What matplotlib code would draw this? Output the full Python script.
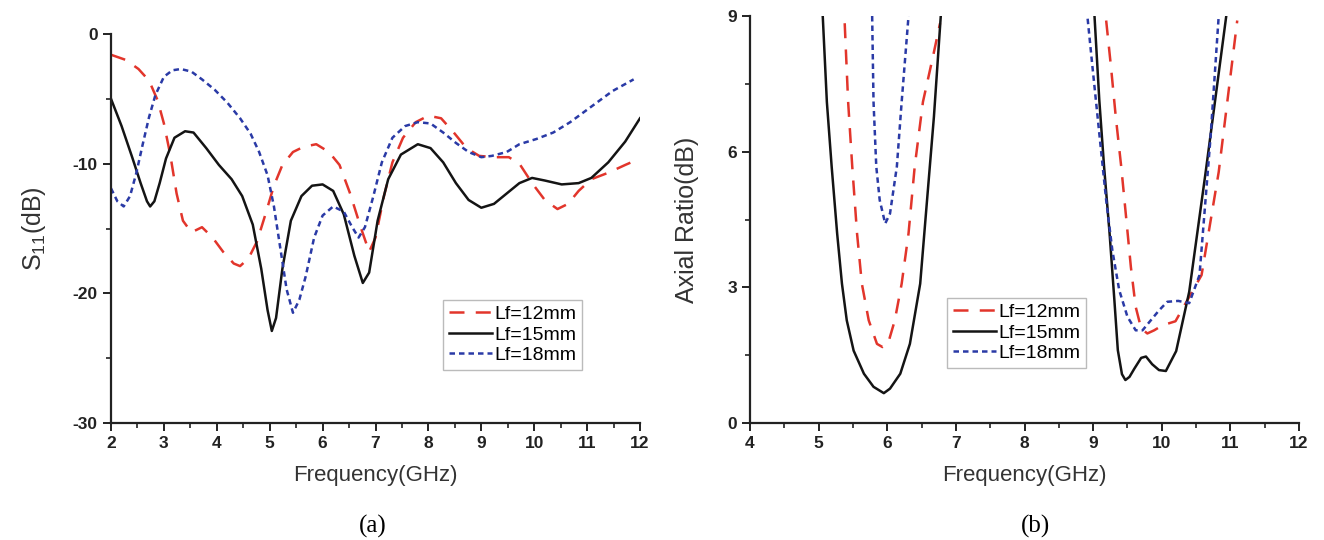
import matplotlib
matplotlib.use("Agg")
import matplotlib.pyplot as plt
import matplotlib.ticker as mticker

plt.rcParams["font.family"] = ["Liberation Sans", "DejaVu Sans"]
plt.rcParams["mathtext.fontset"] = "custom"
plt.rcParams["mathtext.rm"] = "Liberation Sans"
plt.rcParams["axes.unicode_minus"] = False

# --- (a) S11 vs frequency ---
s11_f_12 = [2.0, 2.28, 2.52, 2.72, 2.88, 3.0, 3.12, 3.24, 3.36, 3.52, 3.72, 3.92, 4.12, 4.32, 4.44,
            4.6, 4.76, 4.92, 5.08, 5.24, 5.44, 5.64, 5.88, 6.12, 6.32, 6.52, 6.72, 6.88, 7.0,
            7.16, 7.32, 7.52, 7.76, 8.0, 8.24, 8.48, 8.72, 8.96, 9.24, 9.52, 9.72, 9.96, 10.2,
            10.44, 10.64, 10.84, 11.08, 11.4, 11.72, 12.0]
s11_v_12 = [-1.6, -2.0, -2.7, -3.6, -5.1, -6.9, -9.3, -12.3, -14.4, -15.3, -14.9, -15.7, -16.8, -17.7, -17.9,
            -17.3, -16.0, -13.9, -11.7, -10.1, -9.1, -8.7, -8.5, -9.1, -10.1, -12.3, -14.9, -16.8, -15.7,
            -12.5, -9.9, -8.0, -6.8, -6.3, -6.5, -7.6, -8.8, -9.4, -9.5, -9.5, -10.0, -11.5, -12.8,
            -13.5, -13.1, -12.1, -11.2, -10.7, -10.1, -9.6]

s11_f_15 = [2.0, 2.2, 2.4, 2.56, 2.68, 2.74, 2.82, 2.92, 3.04, 3.2, 3.4, 3.56, 3.8, 4.04, 4.28, 4.48,
            4.68, 4.84, 4.96, 5.04, 5.12, 5.24, 5.4, 5.6, 5.8, 6.0, 6.2, 6.4, 6.6, 6.76, 6.88,
            7.04, 7.24, 7.48, 7.8, 8.04, 8.28, 8.52, 8.76, 9.0, 9.24, 9.48, 9.72, 9.96, 10.2,
            10.52, 10.84, 11.08, 11.4, 11.72, 12.0]
s11_v_15 = [-5.0, -7.1, -9.5, -11.5, -12.9, -13.3, -12.9, -11.5, -9.6, -8.0, -7.5, -7.6, -8.8, -10.1, -11.2, -12.5,
            -14.7, -18.1, -21.3, -22.9, -21.9, -18.1, -14.4, -12.5, -11.7, -11.6, -12.1, -13.9, -17.1, -19.2, -18.4,
            -14.4, -11.2, -9.3, -8.5, -8.8, -9.9, -11.5, -12.8, -13.4, -13.1, -12.3, -11.5, -11.1, -11.3,
            -11.6, -11.5, -11.1, -9.9, -8.3, -6.5]

s11_f_18 = [2.0, 2.12, 2.24, 2.36, 2.48, 2.6, 2.72, 2.84, 3.0, 3.16, 3.32, 3.52, 3.72, 3.96, 4.2, 4.44,
            4.64, 4.8, 4.96, 5.08, 5.2, 5.32, 5.44, 5.56, 5.68, 5.84, 6.0, 6.2, 6.4, 6.56, 6.68,
            6.8, 6.96, 7.12, 7.32, 7.56, 7.8, 8.04, 8.28, 8.52, 8.76, 9.0, 9.2, 9.48, 9.72,
            10.04, 10.36, 10.68, 11.08, 11.48, 11.88]
s11_v_18 = [-11.9, -12.9, -13.3, -12.5, -10.7, -8.5, -6.4, -4.7, -3.3, -2.8, -2.7, -2.9, -3.5, -4.3, -5.3, -6.5,
            -7.7, -9.1, -10.9, -13.3, -16.5, -19.7, -21.5, -20.5, -18.7, -15.7, -14.0, -13.3, -13.7, -14.9, -15.7,
            -14.9, -12.5, -9.9, -8.0, -7.1, -6.8, -6.9, -7.6, -8.4, -9.1, -9.5, -9.4, -9.1, -8.5,
            -8.1, -7.6, -6.8, -5.6, -4.4, -3.5]

# --- (b) axial ratio vs frequency (two bands per curve) ---
ar_f_12a = [5.38, 5.43, 5.49, 5.56, 5.63, 5.73, 5.85, 5.93, 6.01, 6.11, 6.21, 6.31, 6.4, 6.52, 6.67, 6.77]
ar_v_12a = [8.84, 7.1, 5.67, 4.19, 3.08, 2.27, 1.75, 1.68, 1.75, 2.27, 3.08, 4.19, 5.67, 7.1, 8.13, 8.84]
ar_f_12b = [9.19, 9.26, 9.33, 9.41, 9.48, 9.55, 9.62, 9.7, 9.79, 9.89, 10.01, 10.2, 10.33, 10.58, 10.83, 11.1]
ar_v_12b = [8.9, 7.88, 6.77, 5.66, 4.56, 3.45, 2.57, 2.09, 1.98, 2.05, 2.16, 2.25, 2.6, 3.27, 5.55, 8.9]

ar_f_15a = [5.06, 5.12, 5.19, 5.27, 5.34, 5.41, 5.51, 5.66, 5.8, 5.95, 6.04, 6.19, 6.33, 6.48, 6.58, 6.68, 6.78]
ar_v_15a = [9.0, 7.1, 5.67, 4.19, 3.08, 2.27, 1.6, 1.09, 0.8, 0.66, 0.76, 1.09, 1.75, 3.08, 4.93, 6.77, 9.0]
ar_f_15b = [9.02, 9.09, 9.16, 9.24, 9.31, 9.36, 9.42, 9.47, 9.53, 9.6, 9.7, 9.77, 9.86, 9.96, 10.06, 10.21,
            10.4, 10.64, 10.94]
ar_v_15b = [9.0, 7.14, 5.66, 4.19, 2.71, 1.61, 1.08, 0.95, 1.02, 1.2, 1.44, 1.47, 1.3, 1.17, 1.15, 1.59,
            2.9, 5.55, 9.0]

ar_f_18a = [5.78, 5.8, 5.84, 5.89, 5.97, 6.04, 6.14, 6.21, 6.31]
ar_v_18a = [9.0, 7.1, 5.67, 4.93, 4.41, 4.63, 5.67, 7.1, 9.0]
ar_f_18b = [8.92, 8.99, 9.09, 9.19, 9.28, 9.38, 9.5, 9.62, 9.72, 9.84, 9.96, 10.08, 10.24, 10.4, 10.55,
            10.71, 10.83]
ar_v_18b = [8.94, 7.88, 6.4, 4.93, 3.82, 2.94, 2.35, 2.05, 2.05, 2.27, 2.49, 2.68, 2.7, 2.65, 3.27,
            6.3, 9.0]

labels = ["Lf=12mm", "Lf=15mm", "Lf=18mm"]
red = "#e2352b"
black = "#141414"
blue = "#2a3aa6"

fig = plt.figure(figsize=(13.24, 5.40), dpi=100)
ax1 = fig.add_axes([111 / 1324, 1 - 423 / 540, (640 - 111) / 1324, (423 - 34) / 540])
ax2 = fig.add_axes([750 / 1324, 1 - 423 / 540, (1299 - 750) / 1324, (423 - 16) / 540])

red_dash = (0, (6, 4.5))
blue_dot = (0, (2.2, 1.6))
lw = 1.8

ax1.plot(s11_f_12, s11_v_12, color=red, lw=lw, linestyle=red_dash, label=labels[0])
ax1.plot(s11_f_15, s11_v_15, color=black, lw=lw, label=labels[1])
ax1.plot(s11_f_18, s11_v_18, color=blue, lw=lw, linestyle=blue_dot, label=labels[2])
ax1.set_xlim(2, 12)
ax1.set_ylim(-30, 0)
ax1.xaxis.set_major_locator(mticker.MultipleLocator(1))
ax1.xaxis.set_minor_locator(mticker.MultipleLocator(0.5))
ax1.yaxis.set_major_locator(mticker.MultipleLocator(10))
ax1.yaxis.set_minor_locator(mticker.MultipleLocator(5))
ax1.set_xlabel("Frequency(GHz)", fontsize=16, color="#333333", labelpad=10)
ax1.set_ylabel("S$_{\\mathregular{11}}$(dB)", fontsize=18, color="#333333", labelpad=18)

ax2.plot(ar_f_12a, ar_v_12a, color=red, lw=lw, linestyle=red_dash, label=labels[0])
ax2.plot(ar_f_12b, ar_v_12b, color=red, lw=lw, linestyle=red_dash)
ax2.plot(ar_f_15a, ar_v_15a, color=black, lw=lw, label=labels[1])
ax2.plot(ar_f_15b, ar_v_15b, color=black, lw=lw)
ax2.plot(ar_f_18a, ar_v_18a, color=blue, lw=lw, linestyle=blue_dot, label=labels[2])
ax2.plot(ar_f_18b, ar_v_18b, color=blue, lw=lw, linestyle=blue_dot)
ax2.set_xlim(4, 12)
ax2.set_ylim(0, 9)
ax2.xaxis.set_major_locator(mticker.MultipleLocator(1))
ax2.xaxis.set_minor_locator(mticker.MultipleLocator(0.5))
ax2.yaxis.set_major_locator(mticker.MultipleLocator(3))
ax2.yaxis.set_minor_locator(mticker.MultipleLocator(1.5))
ax2.set_xlabel("Frequency(GHz)", fontsize=16, color="#333333", labelpad=10)
ax2.set_ylabel("Axial Ratio(dB)", fontsize=18, color="#333333", labelpad=20)

for ax in (ax1, ax2):
    ax.spines["top"].set_visible(False)
    ax.spines["right"].set_visible(False)
    ax.spines["left"].set_linewidth(1.6)
    ax.spines["bottom"].set_linewidth(1.6)
    ax.spines["left"].set_color("#222222")
    ax.spines["bottom"].set_color("#222222")
    ax.tick_params(which="major", direction="out", length=6, width=1.4, labelsize=12.5,
                   colors="#222222")
    ax.tick_params(which="minor", direction="out", length=3.5, width=1.2, colors="#222222")
    for t in ax.get_xticklabels() + ax.get_yticklabels():
        t.set_fontweight("bold")
    leg = ax.legend(loc="lower left", fontsize=14, frameon=True, fancybox=False,
                    handlelength=2.2, handletextpad=0.15, borderpad=0.3, labelspacing=0.15,
                    borderaxespad=0)
    leg.get_frame().set_edgecolor("#aaaaaa")
    leg.get_frame().set_linewidth(1.0)

ax1.get_legend().set_bbox_to_anchor((443 / 1324, 1 - 370 / 540), transform=fig.transFigure)
ax2.get_legend().set_bbox_to_anchor((947 / 1324, 1 - 368 / 540), transform=fig.transFigure)

fig.text(373 / 1324, 1 - 526 / 540, "(a)", ha="center", va="center", fontsize=18,
         family=["Liberation Serif", "DejaVu Serif"])
fig.text(1035 / 1324, 1 - 526 / 540, "(b)", ha="center", va="center", fontsize=18,
         family=["Liberation Serif", "DejaVu Serif"])

fig.savefig("out.png", dpi=100)
